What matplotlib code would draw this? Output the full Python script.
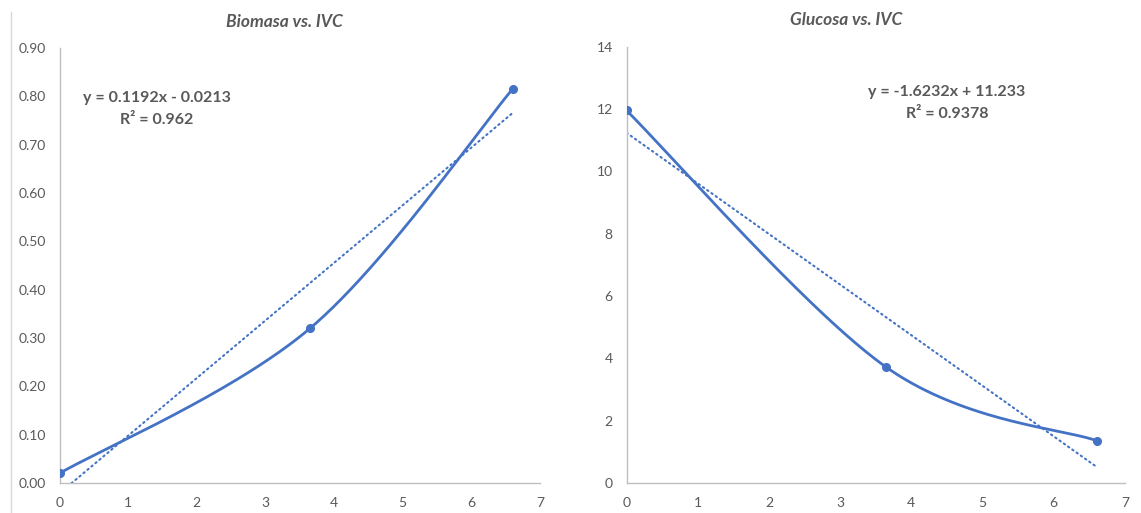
import numpy as np
import matplotlib.pyplot as plt
from matplotlib.lines import Line2D

# IVC vs. biomasa / glucosa
ivc = [0.0, 3.65, 6.6]
biomasa = [0.02, 0.32, 0.815]
glucosa = [11.95, 3.71, 1.36]

# linear trendlines (slope, intercept, R²)
fit_bio = (0.1192, -0.0213, 0.962)
fit_glu = (-1.6232, 11.233, 0.9378)

BLUE = '#4472C4'
GREY_TXT = '#595959'
GREY_AX = '#BFBFBF'

plt.rcParams['font.family'] = ['Lato', 'DejaVu Sans']


def excel_smooth(x, y, n=80):
    """Bezier smoothing like Excel's 'smoothed line' option."""
    pts = np.column_stack([x, y])
    out = []
    for i in range(len(pts) - 1):
        p0 = pts[max(i - 1, 0)]
        p1 = pts[i]
        p2 = pts[i + 1]
        p3 = pts[min(i + 2, len(pts) - 1)]
        c1 = p1 + (p2 - p0) / 6
        c2 = p2 - (p3 - p1) / 6
        t = np.linspace(0, 1, n)[:, None]
        seg = (1 - t)**3 * p1 + 3 * (1 - t)**2 * t * c1 + 3 * (1 - t) * t**2 * c2 + t**3 * p2
        out.append(seg if i == 0 else seg[1:])
    return np.vstack(out)


def style_axes(ax, ymax, ystep, fmt):
    for s in ('top', 'right'):
        ax.spines[s].set_visible(False)
    for s in ('left', 'bottom'):
        ax.spines[s].set_color(GREY_AX)
        ax.spines[s].set_linewidth(1.0)
    ax.set_xlim(0, 7)
    ax.set_ylim(0, ymax)
    ax.set_xticks(np.arange(0, 8, 1))
    ax.set_yticks(np.arange(0, ymax + ystep / 2, ystep))
    ax.yaxis.set_major_formatter(plt.FormatStrFormatter(fmt))
    ax.tick_params(length=0, pad=10, labelsize=10, labelcolor=GREY_TXT)


def draw_series(ax, x, y, fit):
    curve = excel_smooth(x, y)
    ax.plot(curve[:, 0], curve[:, 1], color=BLUE, lw=2.0, solid_capstyle='round', zorder=3)
    ax.plot(x, y, 'o', color=BLUE, ms=5.5, zorder=4)
    m, b, _ = fit
    xt = np.linspace(min(x), max(x), 200)
    ax.plot(xt, m * xt + b, color=BLUE, lw=1.5, linestyle=(0, (0.7, 1.8)),
            dash_capstyle='round', zorder=2)


fig = plt.figure(figsize=(11.41, 5.13), dpi=100)
W, H = 1141, 513

ax1 = fig.add_axes([59.5 / W, (H - 483) / H, (540 - 59.5) / W, (483 - 48) / H])
ax2 = fig.add_axes([626.5 / W, (H - 483) / H, (1125 - 626.5) / W, (483 - 46.5) / H])

style_axes(ax1, 0.9, 0.1, '%.2f')
style_axes(ax2, 14, 2, '%d')

draw_series(ax1, ivc, biomasa, fit_bio)
draw_series(ax2, ivc, glucosa, fit_glu)

# chart titles
fig.text(284 / W, 1 - 22 / H, 'Biomasa vs. IVC', ha='center', va='center',
         fontsize=12.5, fontweight='bold', style='italic', color=GREY_TXT)
fig.text(846 / W, 1 - 20 / H, 'Glucosa vs. IVC', ha='center', va='center',
         fontsize=12.5, fontweight='bold', style='italic', color=GREY_TXT)

# trendline equations
fig.text(157 / W, 1 - 98 / H, f'y = {fit_bio[0]:.4f}x - {abs(fit_bio[1]):.4f}',
         ha='center', va='center', fontsize=11.5, fontweight='bold', color=GREY_TXT)
fig.text(157 / W, 1 - 120 / H, f'R² = {fit_bio[2]:g}',
         ha='center', va='center', fontsize=11.5, fontweight='bold', color=GREY_TXT)
fig.text(947 / W, 1 - 92 / H, f'y = {fit_glu[0]:.4f}x + {fit_glu[1]:g}',
         ha='center', va='center', fontsize=11.5, fontweight='bold', color=GREY_TXT)
fig.text(947 / W, 1 - 114 / H, f'R² = {fit_glu[2]:g}',
         ha='center', va='center', fontsize=11.5, fontweight='bold', color=GREY_TXT)

# chart area border on the left
fig.add_artist(Line2D([11 / W, 11 / W], [0, 1 - 12 / H], color='#D9D9D9', lw=1.0))

fig.savefig('out.png', dpi=100)
